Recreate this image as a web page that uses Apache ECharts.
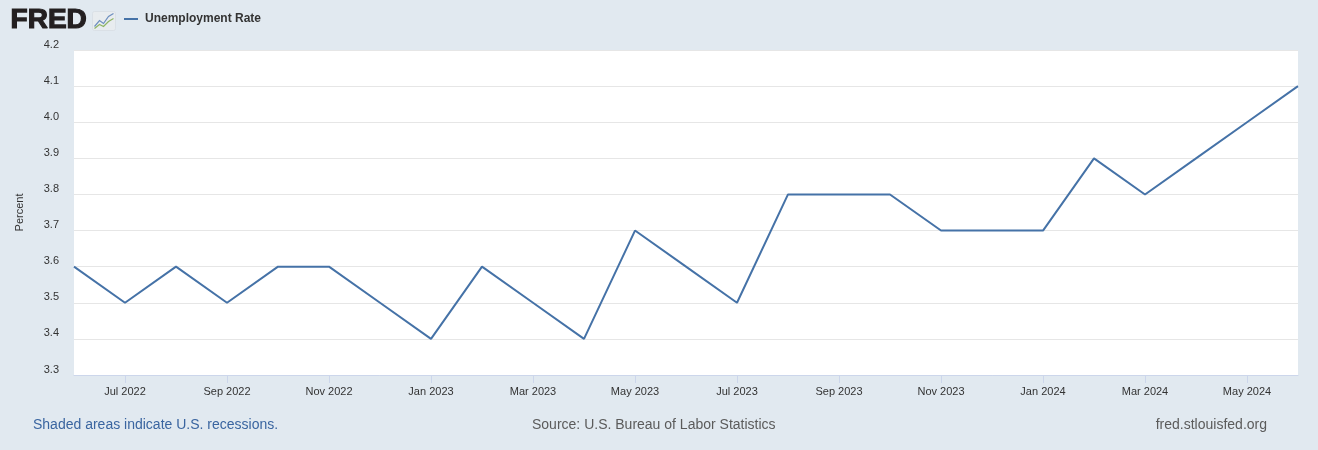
<!DOCTYPE html>
<html><head><meta charset="utf-8">
<script src="https://cdn.jsdelivr.net/npm/echarts@6/dist/echarts.min.js"></script>
<style>html,body{margin:0;padding:0;background:#e1e9f0;}#c{width:1318px;height:450px;}</style>
</head><body><div id="c"></div>
<script>
const months = ['Jun 2022','Jul 2022','Aug 2022','Sep 2022','Oct 2022','Nov 2022','Dec 2022',
  'Jan 2023','Feb 2023','Mar 2023','Apr 2023','May 2023','Jun 2023','Jul 2023','Aug 2023','Sep 2023','Oct 2023','Nov 2023','Dec 2023',
  'Jan 2024','Feb 2024','Mar 2024','Apr 2024','May 2024','Jun 2024'];
const unrate = [3.6,3.5,3.6,3.5,3.6,3.6,3.5,3.4,3.6,3.5,3.4,3.7,3.6,3.5,3.8,3.8,3.8,3.7,3.7,3.7,3.9,3.8,3.9,4.0,4.1];
const seriesName = 'Unemployment Rate';
const yTicks = {min:3.3, max:4.2, interval:0.1};

const chart = echarts.init(document.getElementById('c'), null, {renderer:'canvas'});
const font = 'Helvetica, "Liberation Sans", Arial, sans-serif';
chart.setOption({
  backgroundColor:'#e1e9f0',
  animation:false,
  grid:{left:74, right:20, top:50, bottom:75, containLabel:false, show:true, backgroundColor:'#ffffff', borderWidth:0},
  xAxis:{
    type:'category', data:months, boundaryGap:false,
    axisLine:{lineStyle:{color:'#ccd6eb', width:1}},
    axisTick:{show:true, length:8, lineStyle:{color:'#ccd6eb'}, interval:(i)=>i%2===1},
    axisLabel:{interval:(i)=>i%2===1, color:'#333', fontSize:11, fontFamily:font, margin:11},
    splitLine:{show:false}
  },
  yAxis:{
    type:'value', min:yTicks.min, max:yTicks.max, interval:yTicks.interval,
    name:'Percent', nameLocation:'middle', nameRotate:90, nameGap:49,
    nameTextStyle:{color:'#333', fontSize:11, fontFamily:font},
    axisLine:{show:false}, axisTick:{show:false},
    axisLabel:{formatter:(v)=>v.toFixed(1), color:'#333', fontSize:11, fontFamily:font, margin:15, verticalAlign:'bottom', lineHeight:11},
    splitLine:{lineStyle:{color:'#e6e6e6', width:1}}
  },
  series:[{
    name:seriesName, type:'line', data:unrate, showSymbol:false, symbol:'none',
    lineStyle:{color:'#4572a7', width:2}, itemStyle:{color:'#4572a7'}
  }],
  graphic:[
    {type:'text', left:10, top:6, style:{text:'FRED', font:'bold 28px "Liberation Sans", Arial, sans-serif', fill:'#231f20', stroke:'#231f20', lineWidth:1.2}},
    {type:'group', left:92, top:11, children:[
      {type:'rect', shape:{x:0,y:0,width:23,height:19,r:2}, style:{fill:'#e8ecef', stroke:'#d0d6dc', lineWidth:0.5}},
      {type:'polyline', shape:{points:[[2,15],[7,9],[11,12],[16,5],[21,2]]}, style:{stroke:'#6d8fbf', lineWidth:1.2, fill:null}},
      {type:'polyline', shape:{points:[[2,17],[7,13],[11,15],[16,10],[21,7]]}, style:{stroke:'#8fb565', lineWidth:1.2, fill:null}}
    ]},
    {type:'line', shape:{x1:124,y1:19,x2:138,y2:19}, style:{stroke:'#4572a7', lineWidth:2}},
    {type:'text', left:145, top:13, style:{text:seriesName, font:'bold 12px '+font, fill:'#333'}},
    {type:'text', left:33, top:418, style:{text:'Shaded areas indicate U.S. recessions.', font:'14px '+font, fill:'#3a65a0'}},
    {type:'text', left:532, top:418, style:{text:'Source: U.S. Bureau of Labor Statistics', font:'14px '+font, fill:'#5b5b5b'}},
    {type:'text', right:51, top:418, style:{text:'fred.stlouisfed.org', font:'14px '+font, fill:'#5b5b5b'}}
  ]
});
</script></body></html>
